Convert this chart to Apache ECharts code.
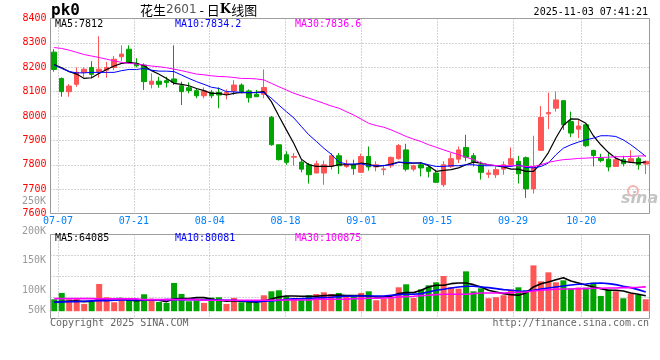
<!DOCTYPE html>
<html><head><meta charset="utf-8">
<script src="https://cdn.jsdelivr.net/npm/echarts@6/dist/echarts.min.js"></script>
<style>html,body{margin:0;padding:0;background:#fff}#c{width:660px;height:360px}</style>
</head><body><div id="c"></div>
<script>
const dates = ['07-04','07-07','07-08','07-09','07-10','07-11','07-14','07-15','07-16','07-17','07-18','07-21','07-22','07-23','07-24','07-25','07-28','07-29','07-30','07-31',
'08-01','08-04','08-05','08-06','08-07','08-08','08-11','08-12','08-13','08-14','08-15','08-18','08-19','08-20','08-21','08-22','08-25','08-26','08-27','08-28','08-29',
'09-01','09-02','09-03','09-04','09-05','09-08','09-09','09-10','09-11','09-12','09-15','09-16','09-17','09-18','09-19','09-22','09-23','09-24','09-25','09-26','09-29','09-30',
'10-09','10-10','10-13','10-14','10-15','10-16','10-17','10-20','10-21','10-22','10-23','10-24','10-27','10-28','10-29','10-30','10-31'];
const tickDates = ['07-07','07-21','08-04','08-18','09-01','09-15','09-29','10-20'];

const open = [8262,8154,8100,8130,8179,8199,8182,8188,8199,8243,
8274,8216,8209,8130,8143,8145,8152,8124,8116,8104,
8083,8097,8097,8089,8103,8127,8103,8089,8089,7995,
7882,7841,7831,7811,7800,7766,7766,7793,7837,7793,
7800,7769,7834,7791,7780,7796,7825,7861,7782,7800,
7789,7766,7718,7793,7823,7871,7837,7800,7761,7759,
7782,7800,7814,7829,7701,7859,8009,8032,8063,7977,
7946,7964,7859,7827,7823,7793,7821,7811,7825,7803];
const close = [8191,8100,8123,8179,8192,8171,8192,8199,8233,8254,
8220,8206,8141,8143,8130,8137,8138,8100,8104,8083,
8103,8083,8086,8096,8127,8100,8075,8079,8117,7882,
7821,7810,7834,7782,7759,7804,7800,7837,7796,7803,
7784,7834,7791,7800,7783,7830,7879,7782,7796,7787,
7773,7728,7800,7825,7861,7831,7811,7769,7766,7780,
7800,7825,7763,7701,7793,7994,8014,8066,7964,7930,
7959,7878,7838,7817,7791,7821,7804,7825,7800,7814];
const low = [8182,8079,8079,8120,8161,8154,8157,8157,8188,8225,
8216,8199,8107,8113,8116,8117,8127,8045,8093,8073,
8073,8073,8032,8068,8086,8093,8055,8078,8073,7878,
7817,7800,7796,7769,7723,7766,7718,7780,7762,7787,
7759,7766,7776,7773,7757,7787,7821,7773,7773,7752,
7748,7725,7709,7787,7807,7814,7793,7739,7746,7746,
7759,7791,7723,7664,7682,7859,7946,8018,7943,7913,
7909,7872,7793,7810,7773,7791,7793,7807,7780,7762];
const high = [8274,8158,8131,8199,8199,8225,8327,8222,8246,8290,
8290,8237,8216,8175,8161,8161,8290,8141,8138,8113,
8117,8107,8117,8109,8147,8134,8109,8107,8191,8000,
7882,7855,7848,7821,7807,7817,7817,7848,7848,7821,
7821,7845,7875,7814,7800,7834,7885,7886,7800,7810,
7800,7780,7814,7848,7875,7923,7848,7814,7780,7793,
7814,7871,7837,7834,7919,8041,8096,8100,8063,8018,
7984,7970,7861,7845,7848,7837,7837,7859,7834,7817];

const ma5 = [8211,8198,8182,8172,8154,8157,8175,8191,8205,8216,
8220,8216,8206,8186,8171,8154,8134,8130,8124,8113,
8104,8093,8093,8086,8093,8097,8096,8097,8100,8059,
8000,7943,7887,7823,7800,7793,7793,7793,7800,7800,
7800,7807,7803,7793,7796,7803,7811,7807,7807,7808,
7796,7773,7777,7780,7787,7800,7811,7807,7800,7796,
7791,7782,7782,7773,7773,7805,7850,7910,7962,7988,
7987,7970,7919,7882,7851,7827,7814,7810,7807,7812];
const ma10 = [8208,8195,8182,8177,8177,8179,8179,8179,8179,8186,
8191,8191,8195,8188,8184,8184,8182,8168,8154,8141,
8130,8118,8113,8100,8099,8097,8096,8096,8096,8073,
8045,8018,7992,7957,7923,7896,7868,7843,7811,7803,
7803,7804,7796,7796,7797,7800,7810,7810,7807,7807,
7800,7793,7793,7796,7796,7800,7800,7796,7796,7796,
7793,7793,7800,7789,7787,7793,7807,7841,7868,7882,
7893,7902,7909,7919,7919,7916,7902,7882,7859,7834.2];
const ma30 = [8281,8277,8270,8261,8252,8246,8240,8233,8226,8220,
8216,8213,8209,8205,8202,8198,8192,8186,8179,8172,
8169,8165,8162,8161,8158,8154,8154,8152,8148,8134,
8120,8107,8093,8083,8073,8063,8052,8041,8032,8018,
8004,7987,7970,7961,7954,7943,7930,7916,7905,7895,
7882,7872,7861,7851,7841,7831,7821,7807,7800,7797,
7796,7796,7796,7793,7793,7800,7810,7816,7821,7823,
7826,7827,7829,7830,7831,7833,7833,7834,7836,7836.6];

const vol = [49600,75800,49600,52300,30300,38600,112900,57900,37200,52300,
48200,52300,70200,45500,38600,34400,117100,71600,41300,44100,
34400,56500,57900,30300,55100,37200,39900,34400,66100,82600,
86800,62000,55100,48200,66100,71600,78500,71600,75800,64700,
62000,75800,82600,45500,52300,59200,99200,111600,55100,90900,
107400,119800,146000,99200,93700,165300,82600,95000,53700,57900,
66100,89500,99200,86800,190100,124000,161200,119800,128100,95000,
97800,97800,118500,63400,89500,82600,53700,73000,68900,49600];
const vma5 = [37200,39900,41300,42700,39900,41300,48200,51000,51000,52300,
45500,44100,45500,48200,45500,39900,51000,52300,52300,56500,
56500,51000,45500,41300,44100,41300,39900,37200,42700,51000,
59200,63400,63400,62000,62000,62000,64700,66100,67500,64700,
64700,64700,63400,59200,59200,62000,73000,77100,77100,86800,
100600,107400,107400,114300,117100,117100,110200,100600,86800,79900,
73000,68900,66100,75800,100600,114300,121200,130900,139100,125300,
117100,108800,100600,93700,86800,86800,84000,75800,70200,64085];
const vma10 = [37200,38600,39900,39900,41300,42700,44100,44100,45500,46800,
46800,46800,46800,46800,46800,48200,48200,48200,48200,48200,
46800,46800,46800,45500,45500,42700,41300,39900,41300,42700,
45500,49600,51000,52300,53700,55100,56500,57900,60600,62000,
63400,63400,63400,63400,63400,66100,68900,70200,70200,73000,
79900,86800,90900,96400,100600,103300,103300,100600,97800,93700,
89500,86800,84000,82600,86800,92300,96400,100600,104700,108800,
111600,112900,115700,117100,114300,110200,103300,97800,89500,80081];
const vma30 = [52300,52300,52300,52300,52300,52300,51000,51000,51000,51000,
51000,51000,48200,48200,48200,48200,48200,48200,48200,48200,
45500,45500,45500,45500,45500,45500,45500,45500,45500,45500,
46800,46800,46800,46800,46800,49600,49600,49600,49600,49600,
52300,52300,53700,53700,55100,56500,59200,60600,62000,64700,
66100,68900,70200,70200,70200,70200,73000,75800,75800,75800,
75800,77100,78500,79900,84000,86800,89500,90900,92300,92300,
93700,93700,95000,95000,96400,96400,97800,97800,99200,100875];

const priceMaLabels = ['MA5:7812','MA10:7834.2','MA30:7836.6'];
const volMaLabels = ['MA5:64085','MA10:80081','MA30:100875'];
const volAxisLabels = ['250K','200K','150K','100K','50K'];
const volAxisLabelY = [201,231,260.5,290.5,310.5];
const maColors = ['#000000','#0000ff','#ff00ff'];

const RED = '#ff5555', GREEN = '#00a400';
const MONO = '"DejaVu Sans Mono", monospace';
const gridLine = {show:true, lineStyle:{color:'#a8a8a8', type:[1,2], width:1}};
const isTick = (i, v) => tickDates.indexOf(v) >= 0;

const chart = echarts.init(document.getElementById('c'), null, {renderer:'canvas'});

const candleData = dates.map((d,i)=>[open[i], close[i], low[i], high[i]]);
const volData = vol.map((v,i)=>({value:v, itemStyle:{color: close[i] >= open[i] ? RED : GREEN}}));

function maSeries(data, color, xi, yi, w){
  return {type:'line', data:data, xAxisIndex:xi, yAxisIndex:yi, symbol:'none', silent:true,
    lineStyle:{color:color, width:w}, z:5};
}

const texts = [];
function txt(t, x, y, fill, font, align){
  texts.push({type:'text', silent:true, z:100, style:{text:t, x:x, y:y, fill:fill, font:font, align:align||'left', verticalAlign:'middle'}});
}
txt('pk0', 51, 11, '#000', 'bold 16px "DejaVu Sans Mono"');
texts.push({type:'text', silent:true, z:100, style:{x:140, y:10, verticalAlign:'middle',
  text:'{a|花生}{b|2601}{a| - 日}{k|K}{a|线图}',
  rich:{a:{font:'13px "Noto Sans CJK SC"', fill:'#000'}, b:{font:'12px "DejaVu Sans"', fill:'#555'}, k:{font:'bold 13px "DejaVu Serif"', fill:'#000'}}}});
txt('2025-11-03 07:41:21', 648, 12, '#000', '10px ' + MONO, 'right');
const maX = [55, 175, 295];
priceMaLabels.forEach((t,i)=>txt(t, maX[i], 24, maColors[i], '10px ' + MONO));
volMaLabels.forEach((t,i)=>txt(t, maX[i], 238.5, maColors[i], '10px ' + MONO));
volAxisLabels.forEach((t,i)=>txt(t, 46, volAxisLabelY[i], '#9a9a9a', '10px ' + MONO, 'right'));
txt('Copyright 2025 SINA.COM', 50, 323.5, '#666', '10px ' + MONO);
txt('http://finance.sina.com.cn', 649, 323.5, '#666', '10px ' + MONO, 'right');
texts.push({type:'circle', silent:true, z:1, shape:{cx:633, cy:191, r:5}, style:{fill:'none', stroke:'#f3b3b3', lineWidth:2}});
txt('sina', 621, 199, '#c4c4c4', 'italic bold 16px "DejaVu Sans"');

const option = {
  animation:false,
  backgroundColor:'#fff',
  grid:[
    {left:50.5, top:18.5, width:599, height:195, show:true, borderColor:'#999', borderWidth:1, backgroundColor:'transparent'},
    {left:50.5, top:234.5, width:599, height:84, show:true, borderColor:'#999', borderWidth:1, backgroundColor:'transparent'}
  ],
  xAxis:[
    {type:'category', gridIndex:0, data:dates, boundaryGap:true, position:'top', show:false},
    {type:'category', gridIndex:0, data:dates, boundaryGap:false, position:'bottom',
      axisLine:{show:false}, axisTick:{show:false},
      axisLabel:{show:true, interval:isTick, color:'#0080ff', fontFamily:'DejaVu Sans Mono', fontSize:10, margin:3},
      splitLine:Object.assign({interval:isTick}, gridLine)},
    {type:'category', gridIndex:1, data:dates, boundaryGap:true, position:'top', show:false},
    {type:'category', gridIndex:1, data:dates, boundaryGap:false, position:'bottom',
      axisLine:{show:false}, axisTick:{show:false}, axisLabel:{show:false},
      splitLine:Object.assign({interval:isTick}, gridLine)}
  ],
  yAxis:[
    {type:'value', gridIndex:0, min:7600, max:8400, interval:100, position:'left',
      axisLine:{show:false}, axisTick:{show:false},
      axisLabel:{color:'#ff0000', fontFamily:'DejaVu Sans Mono', fontSize:10, margin:4, padding:[0,0,4,0],
        formatter:(v)=>String(v)},
      splitLine:gridLine},
    {type:'value', gridIndex:1, min:-30200, max:318200, position:'left',
      axisLine:{show:false}, axisTick:{show:false}, axisLabel:{show:false}, splitLine:{show:false}},
    {type:'value', gridIndex:1, min:0, max:4, interval:1, position:'right',
      axisLine:{show:false}, axisTick:{show:false}, axisLabel:{show:false}, splitLine:gridLine}
  ],
  series:[
    {type:'candlestick', xAxisIndex:0, yAxisIndex:0, data:candleData, barWidth:5, silent:true,
      itemStyle:{color:RED, color0:GREEN, borderColor:RED, borderColor0:GREEN, borderWidth:1}},
    maSeries(ma5, maColors[0], 0, 0, 1.2),
    maSeries(ma10, maColors[1], 0, 0, 1),
    maSeries(ma30, maColors[2], 0, 0, 1),
    {type:'bar', xAxisIndex:2, yAxisIndex:1, data:volData, barWidth:6, silent:true},
    maSeries(vma5, maColors[0], 2, 1, 1.6),
    maSeries(vma10, maColors[1], 2, 1, 1.6),
    maSeries(vma30, maColors[2], 2, 1, 1.6)
  ],
  graphic:texts
};
chart.setOption(option);
</script></body></html>
